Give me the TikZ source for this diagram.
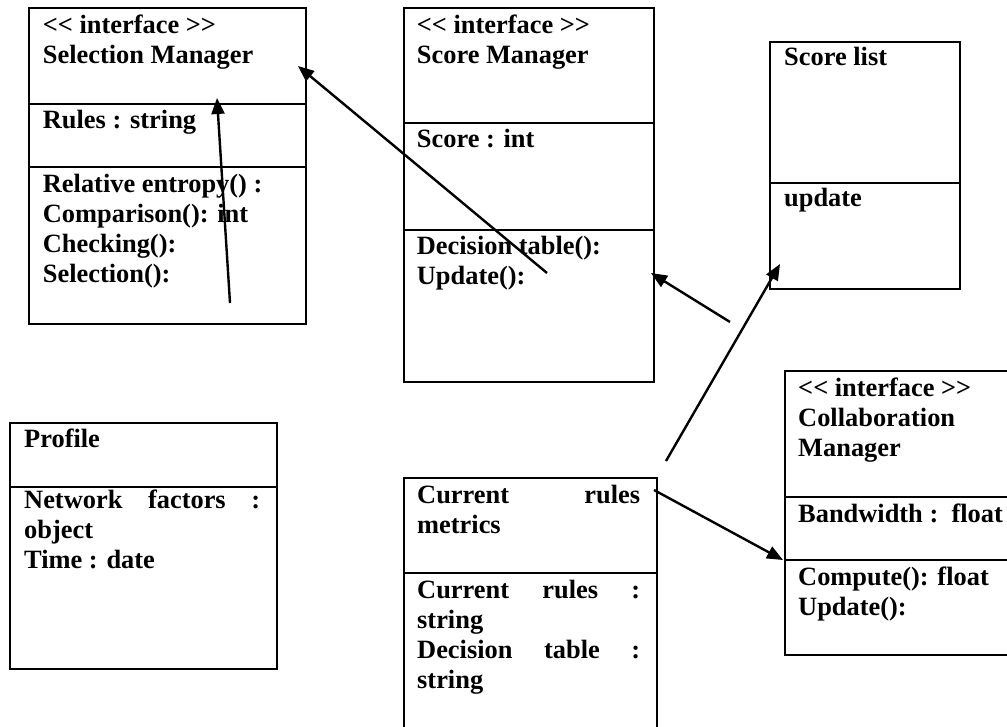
\documentclass[tikz,border=0pt]{standalone}
\usepackage{fontspec}
\setmainfont{Liberation Serif}
\usetikzlibrary{arrows.meta}
\newcommand{\stlt}{<\kern0pt<}
\newcommand{\stgt}{>\kern0pt>}
\begin{document}
\begin{tikzpicture}[x=1pt,y=-1pt,
  comp/.style={draw=black, line width=2pt, rectangle, inner sep=0pt, anchor=north west},
  txt/.style={anchor=base west, inner sep=0pt, font=\bfseries\fontsize{26.4}{30}\selectfont},
  arr/.style={line width=2.4pt, -{Triangle[length=16pt,width=13pt]}}]
\useasboundingbox (0,0) rectangle (1007,727);
% ---------- Selection Manager ----------
\node[comp, minimum width=277.3pt, minimum height=95.4pt] (selA) at (27.7,7.3) {};
\node[comp, minimum width=277.3pt, minimum height=63pt] (selB) at (27.7,102.7) {};
\node[comp, minimum width=277.3pt, minimum height=157pt] (selC) at (27.7,165.7) {};
\node[txt] (selT1) at (42.7,34) {\parbox[t]{250pt}{\stlt{} interface \stgt\\Selection Manager}};
\node[txt] (selT2) at (42.7,128.5) {\parbox[t]{250pt}{Rules : string}};
\node[txt] (selT3) at (42.7,192.3) {\parbox[t]{250pt}{Relative entropy() :\\Comparison(): int\\Checking():\\Selection():}};
% ---------- Score Manager ----------
\node[comp, minimum width=250.3pt, minimum height=115pt] (scA) at (402.7,7) {};
\node[comp, minimum width=250.3pt, minimum height=107pt] (scB) at (402.7,122) {};
\node[comp, minimum width=250.3pt, minimum height=152pt] (scC) at (402.7,229) {};
\node[txt] (scT1) at (416.7,34) {\parbox[t]{230pt}{\stlt{} interface \stgt\\Score Manager}};
\node[txt] (scT2) at (416.7,148) {\parbox[t]{230pt}{Score : int}};
\node[txt] (scT3) at (416.7,255) {\parbox[t]{230pt}{Decision table():\\Update():}};
% ---------- Score list ----------
\node[comp, minimum width=190pt, minimum height=140.7pt] (slA) at (769,41) {};
\node[comp, minimum width=190pt, minimum height=106pt] (slB) at (769,181.7) {};
\node[txt] (slT1) at (784,66) {Score list};
\node[txt] (slT2) at (784,207) {update};
% ---------- Collaboration Manager ----------
\node[comp, minimum width=240pt, minimum height=126pt] (coA) at (784,370) {};
\node[comp, minimum width=240pt, minimum height=63pt] (coB) at (784,496) {};
\node[comp, minimum width=240pt, minimum height=95pt] (coC) at (784,559) {};
\node[txt] (coT1) at (798,396) {\parbox[t]{205pt}{\stlt{} interface \stgt\\Collaboration\\Manager}};
\node[txt] (coT2) at (798,522) {Bandwidth :\ \ float};
\node[txt] (coT3) at (798,585) {\parbox[t]{205pt}{Compute(): float\\Update():}};
% ---------- Profile ----------
\node[comp, minimum width=267pt, minimum height=63.7pt] (prA) at (9,422) {};
\node[comp, minimum width=267pt, minimum height=182.3pt] (prB) at (9,485.7) {};
\node[txt] (prT1) at (24,447) {Profile};
\node[txt] (prT2) at (24,508) {\parbox[t]{236pt}{Network\hfill factors\hfill :\\object\\Time : date}};
% ---------- Current rules metrics ----------
\node[comp, minimum width=253pt, minimum height=95pt] (crA) at (402.7,477) {};
\node[comp, minimum width=253pt, minimum height=170pt] (crB) at (402.7,572) {};
\node[txt] (crT1) at (417,503) {\parbox[t]{223pt}{Current\hfill rules\\metrics}};
\node[txt] (crT2) at (417,598) {\parbox[t]{223pt}{Current\hfill rules\hfill :\\string\\Decision\hfill table\hfill :\\string}};
% ---------- connectors ----------
\coordinate (a1s) at (230,303);  \coordinate (a1e) at (217,98);
\coordinate (a2s) at (547,273);  \coordinate (a2e) at (298,66);
\coordinate (a3s) at (730,322);  \coordinate (a3e) at (651,273);
\coordinate (a4s) at (666,461);  \coordinate (a4e) at (780,264);
\coordinate (a5s) at (654,490);  \coordinate (a5e) at (783,560);
\draw[arr] (a1s) -- (a1e);
\draw[arr] (a2s) -- (a2e);
\draw[arr] (a3s) -- (a3e);
\draw[arr] (a4s) -- (a4e);
\draw[arr] (a5s) -- (a5e);
\end{tikzpicture}
\end{document}
